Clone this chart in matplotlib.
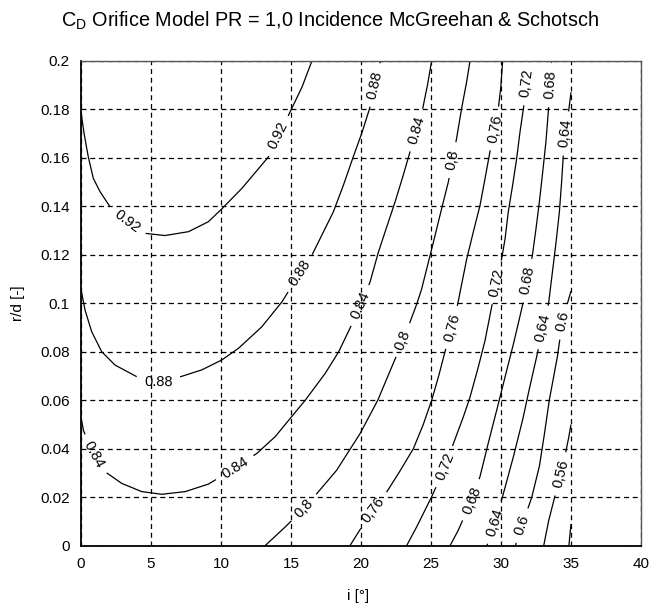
import matplotlib
matplotlib.use('Agg')
import matplotlib.pyplot as plt
import numpy as np
from matplotlib.contour import ContourSet
from matplotlib.ticker import FuncFormatter, MultipleLocator

plt.rcParams['font.family'] = ['Liberation Sans', 'DejaVu Sans']

# contour lines: (i [deg], r/d [-]) for each CD level
cd_052 = [(34.85, 0.0), (35.0, 0.009)]
cd_056 = [(33.05, 0.0), (33.41, 0.0104), (33.77, 0.0186), (34.25, 0.0296),
          (34.6, 0.0379), (34.84, 0.0447), (35.0, 0.05)]
cd_060 = [(31.03, 0.0), (31.5, 0.0083), (32.2, 0.02), (32.75, 0.033),
          (33.1, 0.046), (33.45, 0.06), (34.03, 0.078), (34.38, 0.0924),
          (34.75, 0.1), (35.0, 0.105)]
cd_064 = [(29.0, 0.0), (29.55, 0.0095), (30.1, 0.02), (30.9, 0.037),
          (31.55, 0.052), (32.0, 0.064), (32.55, 0.078), (33.0, 0.09),
          (33.4, 0.1), (33.67, 0.1127), (33.93, 0.125), (34.17, 0.1376),
          (34.33, 0.15), (34.45, 0.161), (34.6, 0.17), (34.85, 0.18),
          (35.0, 0.187)]
cd_068 = [(26.36, 0.0), (26.95, 0.0064), (27.9, 0.0188), (28.5, 0.0285),
          (29.1, 0.0425), (29.69, 0.0558), (30.17, 0.0668), (30.9, 0.0835),
          (31.25, 0.092), (31.57, 0.1), (31.87, 0.1093), (32.24, 0.1196),
          (32.5, 0.1307), (32.74, 0.1417), (32.98, 0.1541), (33.21, 0.1666),
          (33.38, 0.179), (33.5, 0.19), (33.62, 0.2)]
cd_072 = [(23.26, 0.0), (23.98, 0.0078), (25.05, 0.0202), (26.0, 0.0325),
          (26.6, 0.0421), (27.31, 0.0531), (27.79, 0.0613), (28.38, 0.0737),
          (28.86, 0.0846), (29.33, 0.0984), (29.69, 0.1086), (30.0, 0.1168),
          (30.29, 0.1265), (30.52, 0.1376), (30.83, 0.1486), (31.12, 0.1597),
          (31.36, 0.1707), (31.64, 0.1818), (31.83, 0.1907), (32.07, 0.2)]
cd_076 = [(19.21, 0.0), (20.3, 0.01), (21.6, 0.02), (22.7, 0.03),
          (23.74, 0.04), (24.45, 0.05), (25.05, 0.06), (25.55, 0.07),
          (26.0, 0.08), (26.5, 0.09), (26.92, 0.1), (27.55, 0.1182),
          (28.02, 0.1293), (28.5, 0.1403), (28.86, 0.1514), (29.21, 0.1624),
          (29.57, 0.172), (29.81, 0.1804), (29.98, 0.1887), (30.12, 0.2)]
cd_080 = [(13.15, 0.0), (14.6, 0.0078), (15.95, 0.0155), (16.7, 0.0205),
          (18.26, 0.0311), (19.93, 0.0462), (21.2, 0.06), (22.46, 0.0773),
          (23.0, 0.0848), (23.5, 0.0922), (23.98, 0.0996), (24.33, 0.1058),
          (24.81, 0.1168), (25.29, 0.1279), (25.76, 0.139), (26.24, 0.15),
          (26.53, 0.159), (26.83, 0.168), (27.19, 0.1804), (27.55, 0.1914),
          (27.79, 0.2)]
cd_084 = [(0.0, 0.0528), (0.18, 0.0475), (0.4, 0.0443), (0.93, 0.0375),
          (1.72, 0.0305), (2.91, 0.0257), (4.34, 0.0223), (5.77, 0.0212),
          (7.44, 0.0223), (9.1, 0.0254), (11.0, 0.032), (12.57, 0.0381),
          (13.88, 0.045), (14.93, 0.0524), (16.02, 0.06), (17.45, 0.0711),
          (18.4, 0.0799), (19.2, 0.0895), (19.95, 0.099), (20.64, 0.1086),
          (21.24, 0.121), (21.83, 0.1313), (22.43, 0.1417), (23.02, 0.1528),
          (23.5, 0.1624), (23.95, 0.1714), (24.4, 0.18), (24.75, 0.19),
          (25.05, 0.2)]
cd_088 = [(0.0, 0.1058), (0.29, 0.0972), (0.76, 0.0883), (1.48, 0.08),
          (2.43, 0.0745), (3.98, 0.0697), (5.53, 0.0676), (6.96, 0.0694),
          (8.63, 0.0725), (10.06, 0.0766), (11.25, 0.0814), (12.92, 0.0903),
          (14.36, 0.1006), (14.95, 0.1061), (16.5, 0.1199), (17.07, 0.1265),
          (18.02, 0.1376), (18.74, 0.1486), (19.45, 0.1604), (20.05, 0.17),
          (20.6, 0.18), (21.0, 0.19), (21.4, 0.2)]
cd_092 = [(0.0, 0.179), (0.22, 0.17), (0.52, 0.1604), (0.88, 0.1515),
          (1.36, 0.146), (2.07, 0.1398), (3.27, 0.1336), (4.58, 0.1288),
          (6.0, 0.1279), (7.68, 0.1295), (9.1, 0.1336), (10.06, 0.1389),
          (11.5, 0.1474), (13.4, 0.1604), (14.1, 0.169), (14.83, 0.1776),
          (15.8, 0.1893), (16.5, 0.2)]

levels = [0.52, 0.56, 0.60, 0.64, 0.68, 0.72, 0.76, 0.80, 0.84, 0.88, 0.92]
lines = [cd_052, cd_056, cd_060, cd_064, cd_068, cd_072, cd_076, cd_080,
         cd_084, cd_088, cd_092]

# where the labels sit and how they are written (the source mixes , and .)
label_pos = [(3.27, 0.1336), (14.1, 0.169),
             (5.53, 0.0676), (15.6, 0.1125), (21.0, 0.19),
             (0.93, 0.0375), (11.0, 0.032), (19.95, 0.099), (23.95, 0.1714),
             (15.95, 0.0155), (23.0, 0.0848), (26.53, 0.159),
             (20.88, 0.0147), (26.5, 0.09), (29.57, 0.172),
             (26.0, 0.0325), (29.69, 0.1086), (31.83, 0.1907),
             (27.9, 0.0188), (31.87, 0.1093), (33.5, 0.19),
             (29.55, 0.0095), (33.0, 0.09), (34.6, 0.17),
             (31.5, 0.0083), (34.38, 0.0924),
             (34.25, 0.0296)]
label_txt = ['0.92', '0.92',
             '0.88', '0.88', '0.88',
             '0.84', '0.84', '0.84', '0.84',
             '0,8', '0,8', '0,8',
             '0,76', '0,76', '0,76',
             '0,72', '0,72', '0,72',
             '0,68', '0.68', '0.68',
             '0,64', '0,64', '0,64',
             '0.6', '0.6',
             '0,56']

fig = plt.figure(figsize=(6.6, 6.07), dpi=100)
ax = fig.add_axes([0.1227, 0.101, 0.8485, 0.799])
ax.set_xlim(0, 40)
ax.set_ylim(0, 0.2)

segs = [[np.array(l)] for l in lines]
cs = ContourSet(ax, levels, segs, colors='black', linewidths=0.9)

labels = ax.clabel(cs, fmt='%g', fontsize=10.5, inline=True, inline_spacing=8,
                   manual=label_pos)
for t, s in zip(labels, label_txt):
    t.set_text(s)

ax.xaxis.set_major_locator(MultipleLocator(5))
ax.yaxis.set_major_locator(MultipleLocator(0.02))
ax.yaxis.set_major_formatter(FuncFormatter(lambda v, p: f'{v:g}'))
ax.xaxis.set_major_formatter(FuncFormatter(lambda v, p: f'{v:g}'))
ax.tick_params(length=0, labelsize=11, pad=8)
ax.grid(True, color='black', linestyle=(0, (4, 3)), linewidth=0.9)
ax.set_axisbelow(True)
for side in ['left', 'bottom']:
    ax.spines[side].set_linewidth(1.3)
    ax.spines[side].set_color('black')
for side in ['top', 'right']:
    ax.spines[side].set_linewidth(1.0)
    ax.spines[side].set_color('#555555')

fig.text(0.5, 0.966, r'$\mathregular{C_D}$ Orifice Model PR = 1,0 Incidence McGreehan & Schotsch',
         ha='center', va='center', fontsize=14.3)
fig.text(0.027, 1 - 303 / 607, 'r/d [-]', rotation=90, ha='center', va='center', fontsize=11)
fig.text(358 / 660, 1 - 596 / 607, 'i [°]', ha='center', va='center', fontsize=11)

fig.savefig('out.png', dpi=100)
